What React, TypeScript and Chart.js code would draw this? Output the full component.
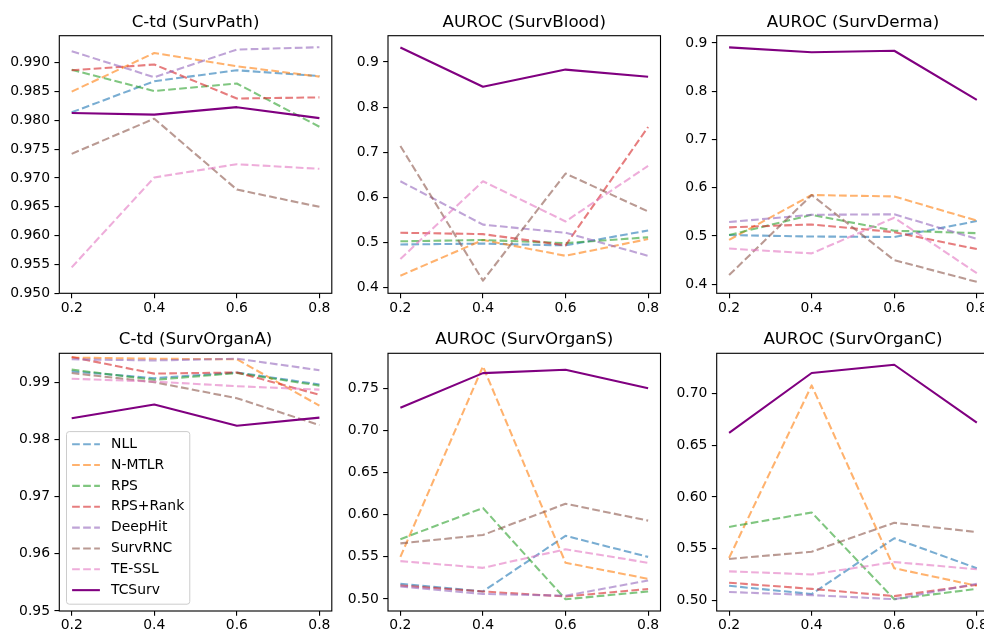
import React, { useEffect, useRef } from "react";
import { Chart, registerables } from "chart.js";

Chart.register(...registerables);

// ---------------- data ----------------
const xValues = [0.2, 0.4, 0.6, 0.8];
const xTickLabels = ["0.2", "0.4", "0.6", "0.8"];
const methods = ["NLL", "N-MTLR", "RPS", "RPS+Rank", "DeepHit", "SurvRNC", "TE-SSL", "TCSurv"];
const methodColors = [
  "rgba(31,119,180,0.6)",
  "rgba(255,127,14,0.6)",
  "rgba(44,160,44,0.6)",
  "rgba(214,39,40,0.6)",
  "rgba(148,103,189,0.6)",
  "rgba(140,86,75,0.6)",
  "rgba(227,119,194,0.6)",
  "#800080",
];

// rows follow `methods` order
const survPathCtd = [
  [0.9814, 0.9868, 0.9887, 0.9877],
  [0.985, 0.9917, 0.9894, 0.9876],
  [0.9888, 0.9851, 0.9864, 0.9789],
  [0.9887, 0.9897, 0.9838, 0.984],
  [0.992, 0.9875, 0.9923, 0.9927],
  [0.9742, 0.9803, 0.968, 0.965],
  [0.9545, 0.9701, 0.9724, 0.9716],
  [0.9813, 0.981, 0.9823, 0.9804],
];
const survBloodAuroc = [
  [0.496, 0.498, 0.494, 0.527],
  [0.427, 0.506, 0.471, 0.508],
  [0.503, 0.506, 0.499, 0.512],
  [0.522, 0.519, 0.494, 0.756],
  [0.636, 0.54, 0.522, 0.471],
  [0.714, 0.416, 0.653, 0.569],
  [0.464, 0.636, 0.547, 0.67],
  [0.932, 0.845, 0.883, 0.867],
];
const survDermaAuroc = [
  [0.502, 0.499, 0.498, 0.531],
  [0.492, 0.585, 0.582, 0.532],
  [0.502, 0.544, 0.511, 0.506],
  [0.518, 0.524, 0.508, 0.473],
  [0.529, 0.544, 0.545, 0.494],
  [0.419, 0.585, 0.45, 0.405],
  [0.474, 0.464, 0.538, 0.423],
  [0.891, 0.881, 0.884, 0.782],
];
const survOrganACtd = [
  [0.9919, 0.9907, 0.9917, 0.9896],
  [0.9943, 0.9941, 0.994, 0.9859],
  [0.9922, 0.9904, 0.9916, 0.9894],
  [0.9944, 0.9915, 0.9917, 0.9878],
  [0.994, 0.9938, 0.9941, 0.9921],
  [0.9916, 0.99, 0.9872, 0.9825],
  [0.9906, 0.9901, 0.9893, 0.9887],
  [0.9837, 0.9861, 0.9824, 0.9838],
];
const survOrganSAuroc = [
  [0.518, 0.509, 0.575, 0.55],
  [0.55, 0.776, 0.543, 0.524],
  [0.571, 0.608, 0.4997, 0.509],
  [0.516, 0.509, 0.503, 0.512],
  [0.515, 0.506, 0.504, 0.522],
  [0.566, 0.576, 0.613, 0.593],
  [0.545, 0.537, 0.559, 0.543],
  [0.727, 0.768, 0.772, 0.75],
];
const survOrganCAuroc = [
  [0.514, 0.506, 0.56, 0.531],
  [0.541, 0.708, 0.531, 0.514],
  [0.571, 0.585, 0.501, 0.511],
  [0.517, 0.511, 0.504, 0.515],
  [0.508, 0.505, 0.501, 0.516],
  [0.54, 0.547, 0.575, 0.566],
  [0.528, 0.525, 0.537, 0.53],
  [0.662, 0.72, 0.728, 0.672],
];

const yTicksPath = ["0.950", "0.955", "0.960", "0.965", "0.970", "0.975", "0.980", "0.985", "0.990"];
const yTicksBlood = ["0.4", "0.5", "0.6", "0.7", "0.8", "0.9"];
const yTicksDerma = ["0.4", "0.5", "0.6", "0.7", "0.8", "0.9"];
const yTicksOrganA = ["0.95", "0.96", "0.97", "0.98", "0.99"];
const yTicksOrganS = ["0.50", "0.55", "0.60", "0.65", "0.70", "0.75"];
const yTicksOrganC = ["0.50", "0.55", "0.60", "0.65", "0.70"];

const titles = [
  "C-td (SurvPath)",
  "AUROC (SurvBlood)",
  "AUROC (SurvDerma)",
  "C-td (SurvOrganA)",
  "AUROC (SurvOrganS)",
  "AUROC (SurvOrganC)",
];
const panelData = [survPathCtd, survBloodAuroc, survDermaAuroc, survOrganACtd, survOrganSAuroc, survOrganCAuroc];
const panelTicks = [yTicksPath, yTicksBlood, yTicksDerma, yTicksOrganA, yTicksOrganS, yTicksOrganC];
const panelYRange = [
  [0.95, 0.9947],
  [0.388, 0.958],
  [0.3813, 0.9152],
  [0.95, 0.99505],
  [0.4858, 0.7915],
  [0.4896, 0.7391],
];

// ---------------- layout ----------------
const FONT = "'DejaVu Sans', sans-serif";
const colLeft = [59.3, 388, 716.7];
const rowTop = [35.7, 353.3];
const rowBottom = [293.3, 611];
const axW = 272.5;
const LW = 2.08;
const DASH = [7.7, 3.33];
const SPINE = 1.11;
const TICKLEN = 4.86;

function framePlugin(showLegend: boolean) {
  return {
    id: "frameAndLegend",
    afterDraw(chart: any) {
      const ctx = chart.ctx;
      const ca = chart.chartArea;
      ctx.save();
      ctx.strokeStyle = "#000";
      ctx.lineWidth = SPINE;
      ctx.setLineDash([]);
      ctx.strokeRect(ca.left, ca.top, ca.right - ca.left, ca.bottom - ca.top);
      if (showLegend) {
        const fs = 13.9;
        ctx.font = `${fs}px ${FONT}`;
        const labels = chart.data.datasets.map((d: any) => d.label);
        let maxW = 0;
        labels.forEach((l: string) => (maxW = Math.max(maxW, ctx.measureText(l).width)));
        const pad = 5.6;
        const handle = 27.8;
        const gap = 11.1;
        const boxW = pad + handle + gap + maxW + pad;
        const rowH = 20.85;
        const boxH = 172.6;
        const left = ca.left + 7.2;
        const top = ca.bottom - 6.8 - boxH;
        const r = 2.8;
        ctx.beginPath();
        ctx.moveTo(left + r, top);
        ctx.lineTo(left + boxW - r, top);
        ctx.quadraticCurveTo(left + boxW, top, left + boxW, top + r);
        ctx.lineTo(left + boxW, top + boxH - r);
        ctx.quadraticCurveTo(left + boxW, top + boxH, left + boxW - r, top + boxH);
        ctx.lineTo(left + r, top + boxH);
        ctx.quadraticCurveTo(left, top + boxH, left, top + boxH - r);
        ctx.lineTo(left, top + r);
        ctx.quadraticCurveTo(left, top, left + r, top);
        ctx.closePath();
        ctx.fillStyle = "rgba(255,255,255,0.8)";
        ctx.fill();
        ctx.strokeStyle = "#cccccc";
        ctx.lineWidth = 1;
        ctx.stroke();
        chart.data.datasets.forEach((d: any, i: number) => {
          const cy = top + 12.6 + i * rowH;
          ctx.beginPath();
          ctx.strokeStyle = d.borderColor;
          ctx.lineWidth = LW;
          ctx.setLineDash(d.borderDash || []);
          ctx.moveTo(left + pad, cy);
          ctx.lineTo(left + pad + handle, cy);
          ctx.stroke();
          ctx.setLineDash([]);
          ctx.fillStyle = "#000";
          ctx.textBaseline = "middle";
          ctx.textAlign = "left";
          ctx.fillText(d.label, left + pad + handle + gap, cy);
        });
      }
      ctx.restore();
    },
  };
}

function Panel({ idx }: { idx: number }) {
  const ref = useRef<HTMLCanvasElement>(null);
  const col = idx % 3;
  const row = Math.floor(idx / 3);
  const L = colLeft[col];
  const T = rowTop[row];
  const B = rowBottom[row];
  const cLeft = Math.round(L) - 57;
  const yAxW = L - cLeft;
  const cTop = Math.round(T) - 30;
  const titleH = T - cTop;
  const xAxH = 30;
  const cW = Math.ceil(yAxW + axW + 12);
  const cH = Math.ceil(B - cTop + xAxH);
  const padR = cW - yAxW - axW;
  const padB = cH - (B - cTop) - xAxH;
  const titleSize = 16.7;
  const titleLine = titleSize * 1.2;
  const titlePadBottom = 3.2;
  const titlePadTop = titleH - titleLine - titlePadBottom;

  useEffect(() => {
    if (!ref.current) return;
    const data = panelData[idx];
    const yTicks = panelTicks[idx];
    const [yMin, yMax] = panelYRange[idx];
    const datasets = methods.map((m, i) => ({
      label: m,
      data: xValues.map((x, j) => ({ x, y: data[i][j] })),
      borderColor: methodColors[i],
      backgroundColor: methodColors[i],
      borderWidth: LW,
      borderDash: m === "TCSurv" ? [] : DASH,
      borderCapStyle: "butt",
      borderJoinStyle: "round",
      pointRadius: 0,
      pointHoverRadius: 0,
      fill: false,
      tension: 0,
      order: methods.length - 1 - i,
    }));
    const gridOpts = {
      display: true,
      drawOnChartArea: false,
      drawTicks: true,
      tickLength: TICKLEN,
      tickWidth: SPINE,
      color: "#000",
      lineWidth: SPINE,
    };
    const chart = new Chart(ref.current, {
      type: "line",
      data: { datasets },
      options: {
        animation: false,
        responsive: false,
        devicePixelRatio: 1,
        events: [],
        layout: { padding: { left: 0, top: 0, right: padR, bottom: padB } },
        plugins: {
          legend: { display: false },
          tooltip: { enabled: false },
          title: {
            display: true,
            fullSize: false,
            text: titles[idx],
            color: "#000",
            font: { family: FONT, size: titleSize, weight: "normal", lineHeight: 1.2 },
            padding: { top: titlePadTop, bottom: titlePadBottom },
          },
        },
        scales: {
          x: {
            type: "linear",
            min: 0.17,
            max: 0.83,
            afterBuildTicks: (s: any) => {
              s.ticks = xValues.map((v) => ({ value: v }));
            },
            afterFit: (s: any) => {
              s.height = xAxH;
            },
            ticks: {
              autoSkip: false,
              maxRotation: 0,
              color: "#000",
              padding: 1.5,
              font: { family: FONT, size: 13.9 },
              callback: (_v: any, i: number) => xTickLabels[i],
            },
            grid: gridOpts,
            border: { display: false },
          },
          y: {
            type: "linear",
            min: yMin,
            max: yMax,
            afterBuildTicks: (s: any) => {
              s.ticks = yTicks.map((t) => ({ value: parseFloat(t) }));
            },
            afterFit: (s: any) => {
              s.width = yAxW;
            },
            ticks: {
              autoSkip: false,
              color: "#000",
              padding: 4.4,
              font: { family: FONT, size: 13.9 },
              callback: (_v: any, i: number) => yTicks[i],
            },
            grid: gridOpts,
            border: { display: false },
          },
        },
      },
      plugins: [framePlugin(idx === 3)],
    } as any);
    return () => chart.destroy();
  }, []);

  return (
    <canvas
      ref={ref}
      width={cW}
      height={cH}
      style={{ position: "absolute", left: cLeft, top: cTop, width: cW, height: cH }}
    />
  );
}

export default function App() {
  return (
    <div
      style={{
        position: "fixed",
        left: 0,
        top: 0,
        width: 984,
        height: 635,
        overflow: "hidden",
        background: "#fff",
      }}
    >
      {[0, 1, 2, 3, 4, 5].map((i) => (
        <Panel key={i} idx={i} />
      ))}
    </div>
  );
}
